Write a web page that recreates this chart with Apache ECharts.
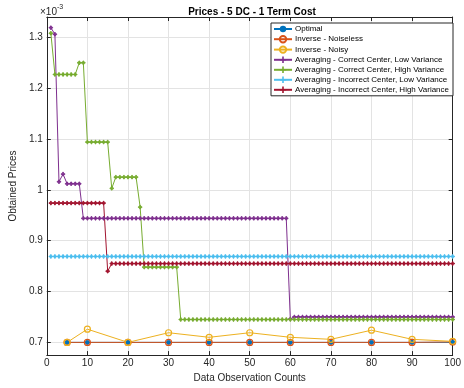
<!DOCTYPE html>
<html><head><meta charset="utf-8">
<script src="https://cdn.jsdelivr.net/npm/echarts@6/dist/echarts.min.js"></script>
<style>html,body{margin:0;padding:0;background:#fff}#c{width:464px;height:388px}</style>
</head><body><div id="c"></div>
<script>
const title = 'Prices - 5 DC - 1 Term Cost';
const xLabel = 'Data Observation Counts';
const yLabel = 'Obtained Prices';
const seriesNames = ['Optimal','Inverse - Noiseless','Inverse - Noisy',
  'Averaging - Correct Center, Low Variance','Averaging - Correct Center, High Variance',
  'Averaging - Incorrect Center, Low Variance','Averaging - Incorrect Center, High Variance'];
const colors = ['#0072BD','#D95319','#EDB120','#7E2F8E','#77AC30','#4DBEEE','#A2142F'];

// sparse observation counts
const sparseX = [5,10,20,30,40,50,60,70,80,90,100];
const optimal = [0.700,0.700,0.700,0.700,0.700,0.700,0.700,0.700,0.700,0.700,0.700];
const invNoiseless = [0.700,0.700,0.700,0.700,0.700,0.700,0.700,0.700,0.700,0.700,0.701];
const invNoisy = [0.700,0.726,0.700,0.719,0.710,0.719,0.710,0.706,0.724,0.706,0.702];

// dense observation counts 1..100
const avgCorrectLow = [
 1.319,1.306,1.016,1.031,1.012,1.012,1.012,1.012,0.944,0.944,
 0.944,0.944,0.944,0.944,0.944,0.944,0.944,0.944,0.944,0.944,
 0.944,0.944,0.944,0.944,0.944,0.944,0.944,0.944,0.944,0.944,
 0.944,0.944,0.944,0.944,0.944,0.944,0.944,0.944,0.944,0.944,
 0.944,0.944,0.944,0.944,0.944,0.944,0.944,0.944,0.944,0.944,
 0.944,0.944,0.944,0.944,0.944,0.944,0.944,0.944,0.944,0.746,
 0.750,0.750,0.750,0.750,0.750,0.750,0.750,0.750,0.750,0.750,
 0.750,0.750,0.750,0.750,0.750,0.750,0.750,0.750,0.750,0.750,
 0.750,0.750,0.750,0.750,0.750,0.750,0.750,0.750,0.750,0.750,
 0.750,0.750,0.750,0.750,0.750,0.750,0.750,0.750,0.750,0.750];
const avgCorrectHigh = [
 1.308,1.227,1.227,1.227,1.227,1.227,1.227,1.250,1.250,1.094,
 1.094,1.094,1.094,1.094,1.094,1.003,1.025,1.025,1.025,1.025,
 1.025,1.025,0.966,0.848,0.848,0.848,0.848,0.848,0.848,0.848,
 0.848,0.848,0.745,0.745,0.745,0.745,0.745,0.745,0.745,0.745,
 0.745,0.745,0.745,0.745,0.745,0.745,0.745,0.745,0.745,0.745,
 0.745,0.745,0.745,0.745,0.745,0.745,0.745,0.745,0.745,0.745,
 0.745,0.745,0.745,0.745,0.745,0.745,0.745,0.745,0.745,0.745,
 0.745,0.745,0.745,0.745,0.745,0.745,0.745,0.745,0.745,0.745,
 0.745,0.745,0.745,0.745,0.745,0.745,0.745,0.745,0.745,0.745,
 0.745,0.745,0.745,0.745,0.745,0.745,0.745,0.745,0.745,0.745];
const avgIncorrectLow = [
 0.869,0.869,0.869,0.869,0.869,0.869,0.869,0.869,0.869,0.869,
 0.869,0.869,0.869,0.869,0.869,0.869,0.869,0.869,0.869,0.869,
 0.869,0.869,0.869,0.869,0.869,0.869,0.869,0.869,0.869,0.869,
 0.869,0.869,0.869,0.869,0.869,0.869,0.869,0.869,0.869,0.869,
 0.869,0.869,0.869,0.869,0.869,0.869,0.869,0.869,0.869,0.869,
 0.869,0.869,0.869,0.869,0.869,0.869,0.869,0.869,0.869,0.869,
 0.869,0.869,0.869,0.869,0.869,0.869,0.869,0.869,0.869,0.869,
 0.869,0.869,0.869,0.869,0.869,0.869,0.869,0.869,0.869,0.869,
 0.869,0.869,0.869,0.869,0.869,0.869,0.869,0.869,0.869,0.869,
 0.869,0.869,0.869,0.869,0.869,0.869,0.869,0.869,0.869,0.869];
const avgIncorrectHigh = [
 0.974,0.974,0.974,0.974,0.974,0.974,0.974,0.974,0.974,0.974,
 0.974,0.974,0.974,0.974,0.840,0.855,0.855,0.855,0.855,0.855,
 0.855,0.855,0.855,0.855,0.855,0.855,0.855,0.855,0.855,0.855,
 0.855,0.855,0.855,0.855,0.855,0.855,0.855,0.855,0.855,0.855,
 0.855,0.855,0.855,0.855,0.855,0.855,0.855,0.855,0.855,0.855,
 0.855,0.855,0.855,0.855,0.855,0.855,0.855,0.855,0.855,0.855,
 0.855,0.855,0.855,0.855,0.855,0.855,0.855,0.855,0.855,0.855,
 0.855,0.855,0.855,0.855,0.855,0.855,0.855,0.855,0.855,0.855,
 0.855,0.855,0.855,0.855,0.855,0.855,0.855,0.855,0.855,0.855,
 0.855,0.855,0.855,0.855,0.855,0.855,0.855,0.855,0.855,0.855];

const FONT = '"Liberation Sans", Arial, sans-serif';
const AX = '#262626';
const plus = 'path://M-1,-4H1V-1H4V1H1V4H-1V1H-4V-1H-1Z';

function pairs(xs, ys){ return ys.map((v,i)=>[xs[i], v]); }
function denseX(ys){ return ys.map((v,i)=>[i+1, v]); }

const chart = echarts.init(document.getElementById('c'), null, {renderer:'canvas'});
const lineBase = (name, color, data, symbol, size, extra) => Object.assign({
  type:'line', name, data, symbol, symbolSize:size, showSymbol:true,
  lineStyle:{color, width:1}, itemStyle:{color, borderColor:color},
  animation:false, xAxisIndex:0, yAxisIndex:0
}, extra||{});
const ring = c => ({color:'rgba(255,255,255,0)', borderColor:c, borderWidth:1.2});

const series = [
  lineBase(seriesNames[0], colors[0], pairs(sparseX, optimal), 'circle', 4),
  lineBase(seriesNames[1], colors[1], pairs(sparseX, invNoiseless), 'circle', 6,
    {itemStyle:ring(colors[1])}),
  lineBase(seriesNames[2], colors[2], pairs(sparseX, invNoisy), 'circle', 6,
    {itemStyle:ring(colors[2])}),
  lineBase(seriesNames[3], colors[3], denseX(avgCorrectLow), plus, 3.5),
  lineBase(seriesNames[4], colors[4], denseX(avgCorrectHigh), plus, 3.5),
  lineBase(seriesNames[5], colors[5], denseX(avgIncorrectLow), plus, 3.5),
  lineBase(seriesNames[6], colors[6], denseX(avgIncorrectHigh), plus, 3.5)
];

const gridStyle = {show:true, lineStyle:{color:'#e3e3e3', width:1}};
chart.setOption({
  backgroundColor:'#fff',
  animation:false,
  textStyle:{fontFamily:FONT},
  title:{text:title, left:247, top:2, textAlign:'center',
    textStyle:{fontFamily:FONT, fontSize:10, fontWeight:'bold', color:'#000'}},
  grid:{left:39, right:8, top:17, bottom:30, containLabel:false},
  legend:{orient:'vertical', left:271, top:23, itemGap:2, itemWidth:18, itemHeight:8,
    padding:[2,4,2,2], backgroundColor:'#fff', borderColor:AX, borderWidth:1,
    textStyle:{fontFamily:FONT, fontSize:8, color:'#000', padding:[0,0,0,-2]},
    data:seriesNames},
  xAxis:[
    {type:'value', min:0, max:100, interval:10, position:'bottom',
     name:xLabel, nameLocation:'middle', nameGap:17,
     nameTextStyle:{fontFamily:FONT, fontSize:10, color:AX},
     axisLine:{lineStyle:{color:AX, width:1}},
     axisTick:{inside:true, length:4, lineStyle:{color:AX}},
     axisLabel:{fontFamily:FONT, fontSize:10, color:AX, margin:3},
     splitLine:gridStyle},
    {type:'value', min:0, max:100, interval:10, position:'top',
     axisLine:{show:true, onZero:false, lineStyle:{color:AX, width:1}},
     axisTick:{inside:true, length:4, lineStyle:{color:AX}},
     axisLabel:{show:false}, splitLine:{show:false}}
  ],
  yAxis:[
    {type:'value', min:0.675, max:1.34, splitNumber:7, position:'left',
     name:yLabel, nameLocation:'middle', nameGap:22,
     nameTextStyle:{fontFamily:FONT, fontSize:10, color:AX},
     axisLine:{show:true, lineStyle:{color:AX, width:1}},
     axisTick:{show:true, inside:true, length:4, lineStyle:{color:AX}},
     axisLabel:{fontFamily:FONT, fontSize:10, color:AX, margin:4,
       showMinLabel:false, showMaxLabel:false,
       formatter:v=>{const r=Math.round(v*10)/10; return Math.abs(r-v)<1e-6 ? String(r) : '';}},
     splitLine:gridStyle},
    {type:'value', min:0.675, max:1.34, splitNumber:7, position:'right',
     axisLine:{show:true, onZero:false, lineStyle:{color:AX, width:1}},
     axisTick:{show:true, inside:true, length:4, lineStyle:{color:AX}},
     axisLabel:{show:false}, splitLine:{show:false}}
  ],
  graphic:[
    {type:'text', left:40, top:4, style:{
      text:'{a|×10}{b|-3}', fill:AX,
      rich:{a:{fontFamily:FONT, fontSize:10, fill:AX, verticalAlign:'bottom'},
            b:{fontFamily:FONT, fontSize:7, fill:AX, verticalAlign:'top', padding:[0,0,6,0]}}}}
  ],
  series
});
</script></body></html>
